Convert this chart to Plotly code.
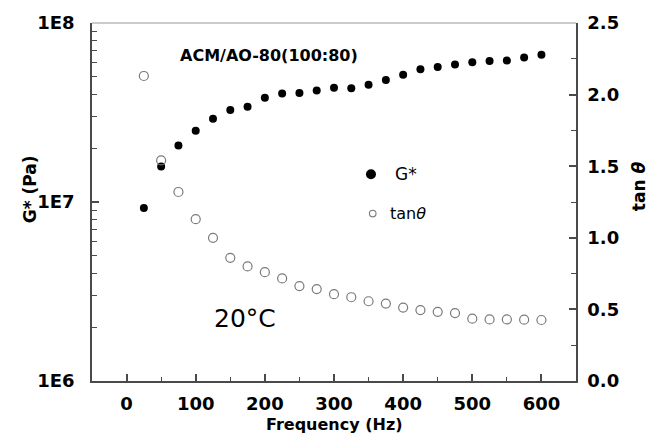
import plotly.graph_objects as go

freq = [25, 50, 75, 100, 125, 150, 175, 200, 225, 250, 275, 300, 325, 350,
        375, 400, 425, 450, 475, 500, 525, 550, 575, 600]
g_star = [9.27e6, 1.58e7, 2.07e7, 2.50e7, 2.92e7, 3.27e7, 3.40e7, 3.82e7,
          4.04e7, 4.07e7, 4.19e7, 4.35e7, 4.32e7, 4.52e7, 4.80e7, 5.14e7,
          5.52e7, 5.68e7, 5.86e7, 6.04e7, 6.14e7, 6.17e7, 6.41e7, 6.65e7]
tan_theta = [2.13, 1.54, 1.32, 1.13, 1.00, 0.86, 0.80, 0.76, 0.716, 0.663,
             0.642, 0.606, 0.585, 0.557, 0.541, 0.513, 0.495, 0.483, 0.474,
             0.435, 0.430, 0.430, 0.428, 0.426]
x_ticks = [0, 100, 200, 300, 400, 500, 600]
left_tickvals = [1e6, 1e7, 1e8]
left_ticktext = ["1E6", "1E7", "1E8"]
left_minor = [k * 10 ** d for d in (6, 7) for k in range(2, 10)]
right_tickvals = [0.0, 0.5, 1.0, 1.5, 2.0, 2.5]

FONT = "DejaVu Sans"
AX = "#4a4a4a"

fig = go.Figure()
fig.add_trace(go.Scatter(
    x=freq, y=g_star, mode="markers", name="G*",
    marker=dict(symbol="circle", size=8, color="black"),
    yaxis="y", showlegend=False))
fig.add_trace(go.Scatter(
    x=freq, y=tan_theta, mode="markers", name="tanθ",
    marker=dict(symbol="circle-open", size=9, color="#7a7a7a",
                line=dict(width=1.2, color="#7a7a7a")),
    yaxis="y2", showlegend=False))

tickfont = dict(family=FONT, size=18, color="black", weight="bold")

fig.update_layout(
    width=657, height=436,
    margin=dict(l=92, r=81, t=19, b=55),
    paper_bgcolor="white", plot_bgcolor="white",
    xaxis=dict(range=[-50, 650], tickvals=x_ticks, ticks="inside", ticklen=7,
               tickwidth=1.5, tickcolor=AX, showline=True, linecolor=AX,
               linewidth=1.5, showgrid=False, zeroline=False,
               tickfont=tickfont, ticklabelstandoff=6,
               minor=dict(dtick=50, tick0=0, ticks="inside", ticklen=4,
                          tickwidth=1.2, tickcolor=AX, showgrid=False)),
    yaxis=dict(type="log", range=[6, 8], tickvals=left_tickvals,
               ticktext=left_ticktext, ticks="inside", ticklen=7,
               tickwidth=1.5, tickcolor=AX, showline=True, linecolor=AX,
               linewidth=1.5, showgrid=False, zeroline=False,
               tickfont=tickfont, ticklabelstandoff=12,
               minor=dict(tickvals=left_minor, ticks="inside", ticklen=5,
                          tickwidth=1.2, tickcolor=AX, showgrid=False)),
    yaxis2=dict(overlaying="y", side="right", range=[0, 2.5],
                tickvals=right_tickvals, tickformat=".1f", ticks="inside",
                ticklen=7, tickwidth=1.5, tickcolor=AX, showline=True,
                linecolor=AX, linewidth=1.5, showgrid=False, zeroline=False,
                tickfont=tickfont, ticklabelstandoff=6,
                minor=dict(dtick=0.25, ticks="inside", ticklen=5,
                           tickwidth=1.2, tickcolor=AX, showgrid=False)),
    showlegend=False,
)

# top frame line
fig.add_shape(type="line", xref="paper", yref="paper", x0=0, x1=1, y0=1, y1=1,
              line=dict(color="#9a9a9a", width=1.2))

# legend symbols
fig.add_shape(type="circle", xref="paper", yref="paper", xsizemode="pixel",
              ysizemode="pixel", xanchor=0.5764, yanchor=0.5773,
              x0=-5, x1=5, y0=-5, y1=5, fillcolor="black",
              line=dict(color="black", width=0))
fig.add_shape(type="circle", xref="paper", yref="paper", xsizemode="pixel",
              ysizemode="pixel", xanchor=0.580, yanchor=0.4677,
              x0=-3.3, x1=3.3, y0=-3.3, y1=3.3, fillcolor="rgba(0,0,0,0)",
              line=dict(color="#7a7a7a", width=1.1))

ann = [
    dict(text="G*", x=0.622, y=0.5773, xanchor="left", yanchor="middle",
         font=dict(family=FONT, size=17, color="black")),
    dict(text="tan<i>θ</i>", x=0.612, y=0.4677, xanchor="left",
         yanchor="middle", font=dict(family=FONT, size=16, color="black")),
    dict(text="<b>ACM/AO-80(100:80)</b>", x=0.3667, y=0.910,
         xanchor="center", yanchor="middle",
         font=dict(family=FONT, size=16, color="black")),
    dict(text="20°C", x=0.317, y=0.174, xanchor="center", yanchor="middle",
         font=dict(family=FONT, size=25, color="black")),
    dict(text="<b>G* (Pa)</b>", x=-0.128, y=0.536, textangle=-90,
         xanchor="center", yanchor="middle",
         font=dict(family=FONT, size=17, color="black")),
    dict(text="<b>tan <i>θ</i></b>", x=1.130, y=0.544, textangle=-90,
         xanchor="center", yanchor="middle",
         font=dict(family=FONT, size=17, color="black")),
    dict(text="<b>Frequency (Hz)</b>", x=0.502, y=-0.1215,
         xanchor="center", yanchor="middle",
         font=dict(family=FONT, size=16, color="black")),
]
for a in ann:
    fig.add_annotation(xref="paper", yref="paper", showarrow=False, **a)

fig.write_html("out.html")
